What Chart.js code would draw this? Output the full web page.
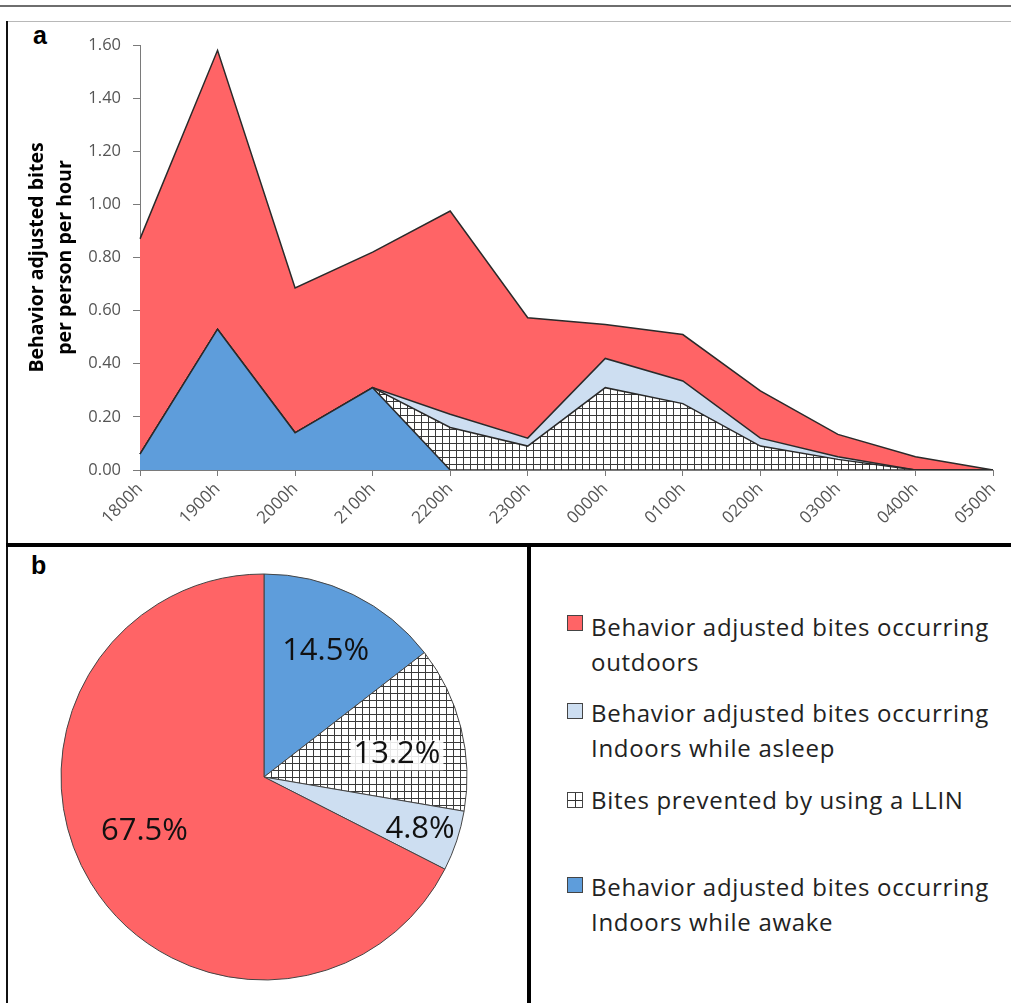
<!DOCTYPE html>
<html><head><meta charset="utf-8">
<script src="https://cdn.jsdelivr.net/npm/chart.js@4/dist/chart.umd.min.js"></script>
<style>
html,body{margin:0;padding:0;background:#fff;}
body{width:1011px;height:1003px;position:relative;overflow:hidden;font-family:"Open Sans",sans-serif;}
.abs{position:absolute;}
.lg-sq{position:absolute;width:14px;height:14px;border:1px solid #444;}
.lg-tx{position:absolute;left:591px;font-size:24px;letter-spacing:0.7px;line-height:35px;color:#222;white-space:nowrap;font-family:"Open Sans",sans-serif;}
</style></head><body>
<div class="abs" style="left:0;top:5px;width:1011px;height:2px;background:#6e6e6e"></div>
<div class="abs" style="left:6px;top:21px;width:1005px;height:1px;background:#b8b8b8"></div>
<div class="abs" style="left:6px;top:21px;width:2px;height:982px;background:#111"></div>
<div class="abs" style="left:6px;top:543px;width:1005px;height:4px;background:#000"></div>
<div class="abs" style="left:527px;top:545px;width:4px;height:458px;background:#000"></div>
<div class="abs" style="left:33px;top:21px;font:bold 25px 'Liberation Sans',Arial,sans-serif;color:#000">a</div>
<div class="abs" style="left:31px;top:551px;font:bold 25px 'Liberation Sans',Arial,sans-serif;color:#000">b</div>

<canvas id="area" class="abs" style="left:8px;top:23px" width="1003" height="520"></canvas>
<canvas id="pie" class="abs" style="left:54px;top:567px" width="420" height="420"></canvas>

<div class="lg-sq" style="left:567px;top:615px;background:#FF6466"></div>
<div class="lg-tx" id="lg0" style="top:609px"></div>
<div class="lg-sq" style="left:567px;top:703px;background:#CDDEF1"></div>
<div class="lg-tx" id="lg1" style="top:695px"></div>
<div class="lg-sq" style="left:567px;top:792px;background:linear-gradient(#333,#333) center/100% 1px no-repeat,linear-gradient(#333,#333) center/1px 100% no-repeat,#fff"></div>
<div class="lg-tx" id="lg2" style="top:782px"></div>
<div class="lg-sq" style="left:567px;top:877px;background:#5E9DDB"></div>
<div class="lg-tx" id="lg3" style="top:869px"></div>

<script>
// ---- data ----
const hours = ['1800h','1900h','2000h','2100h','2200h','2300h','0000h','0100h','0200h','0300h','0400h','0500h'];
const awakeIndoors  = [0.06, 0.53, 0.14, 0.31, 0,    0,     0,     0,     0,     0,     0,    0];
const preventedLLIN = [0,    0,    0,    0,    0.16, 0.09,  0.31,  0.25,  0.09,  0.04,  0,    0];
const asleepIndoors = [0,    0,    0,    0,    0.05, 0.03,  0.11,  0.085, 0.03,  0.01,  0,    0];
const outdoors      = [0.81, 1.05, 0.545,0.51, 0.765,0.453, 0.128, 0.175, 0.178, 0.084, 0.05, 0];
const yTickLabels = ['0.00','0.20','0.40','0.60','0.80','1.00','1.20','1.40','1.60'];
const yTitle = ['Behavior adjusted bites','per person per hour'];

const pieCategories = ['Behavior adjusted bites occurring Indoors while awake','Bites prevented by using a LLIN','Behavior adjusted bites occurring Indoors while asleep','Behavior adjusted bites occurring outdoors'];
const pieValues = [14.5, 13.2, 4.8, 67.5];

const legendLines = [
  ['Behavior adjusted bites occurring','outdoors'],
  ['Behavior adjusted bites occurring','Indoors while asleep'],
  ['Bites prevented by using a LLIN'],
  ['Behavior adjusted bites occurring','Indoors while awake']
];

// ---- styles ----
const RED = '#FF6466', BLUE = '#5E9DDB', LIGHT = '#CDDEF1', EDGE = '#2a2a2a';
function makeHatch(){
  const c = document.createElement('canvas'); c.width = 7; c.height = 7;
  const g = c.getContext('2d');
  g.fillStyle = '#fff'; g.fillRect(0,0,7,7);
  g.fillStyle = '#3a3a3a'; g.fillRect(0,0,7,1); g.fillRect(0,0,1,7);
  return g.createPattern(c,'repeat');
}
const hatch = makeHatch();

legendLines.forEach((ls,i)=>{ document.getElementById('lg'+i).innerHTML = ls.join('<br>'); });

const lineBase = {pointRadius:0, borderColor:EDGE, borderWidth:1.5, tension:0};
new Chart(document.getElementById('area'), {
  type:'line',
  data:{
    labels:hours,
    datasets:[
      Object.assign({label:'Behavior adjusted bites occurring Indoors while awake', data:awakeIndoors, backgroundColor:BLUE, fill:'origin'}, lineBase),
      Object.assign({label:'Bites prevented by using a LLIN', data:preventedLLIN, backgroundColor:hatch, fill:'-1'}, lineBase),
      Object.assign({label:'Behavior adjusted bites occurring Indoors while asleep', data:asleepIndoors, backgroundColor:LIGHT, fill:'-1'}, lineBase),
      Object.assign({label:'Behavior adjusted bites occurring outdoors', data:outdoors, backgroundColor:RED, fill:'-1'}, lineBase)
    ]
  },
  options:{
    responsive:false, animation:false,
    layout:{padding:{top:22, right:18, left:0, bottom:0}},
    plugins:{legend:{display:false}, tooltip:{enabled:false}},
    scales:{
      x:{
        border:{display:true, color:'#7a7a7a', width:1},
        grid:{display:true, drawOnChartArea:false, drawTicks:true, tickLength:6, color:'#7a7a7a'},
        ticks:{maxRotation:45, minRotation:45, padding:3, color:'#555', font:{size:17, family:'Open Sans'}},
        afterFit(s){ s.height = 73; }
      },
      y:{
        stacked:true, min:0, max:1.6,
        border:{display:true, color:'#7a7a7a', width:1},
        grid:{display:true, drawOnChartArea:false, drawTicks:true, tickLength:7, color:'#7a7a7a'},
        ticks:{stepSize:0.2, padding:12, color:'#555', font:{size:16.5, family:'Open Sans'},
               callback:(v,i)=>yTickLabels[i]},
        title:{display:true, text:yTitle, color:'#000',
               font:{size:19.5, weight:'bold', family:'Open Sans', lineHeight:1.42},
               padding:{top:16, bottom:0}},
        afterFit(s){ s.width = 132; }
      }
    }
  }
});

const labelRadius = [0.69, 0.665, 0.81, 0.65];
const labelNudge = [[0,0],[2,10],[0,0],[-7,-15]];
const pieLabelPlugin = {
  id:'pieLabels',
  afterDatasetsDraw(chart){
    const ctx = chart.ctx;
    const meta = chart.getDatasetMeta(0);
    ctx.save();
    ctx.font = '31px "Open Sans"';
    ctx.textAlign = 'center'; ctx.textBaseline = 'middle';
    meta.data.forEach((arc,i)=>{
      const p = arc.getProps(['x','y','startAngle','endAngle','outerRadius'], true);
      const mid = (p.startAngle + p.endAngle)/2;
      const r = p.outerRadius * labelRadius[i];
      const px = p.x + Math.cos(mid)*r + labelNudge[i][0];
      const py = p.y + Math.sin(mid)*r + labelNudge[i][1];
      const txt = pieValues[i].toFixed(1) + '%';
      if (i === 1) {
        const w = ctx.measureText(txt).width + 6;
        ctx.fillStyle = 'rgba(255,255,255,0.88)';
        ctx.fillRect(px - w/2, py - 14, w, 30);
      }
      ctx.fillStyle = '#111';
      ctx.fillText(txt, px, py);
    });
    ctx.restore();
  }
};

new Chart(document.getElementById('pie'), {
  type:'pie',
  data:{labels:pieCategories, datasets:[{data:pieValues, backgroundColor:[BLUE, hatch, LIGHT, RED], borderColor:'#444', borderWidth:1, hoverOffset:0}]},
  options:{
    responsive:false, animation:false, radius:203,
    plugins:{legend:{display:false}, tooltip:{enabled:false}}
  },
  plugins:[pieLabelPlugin]
});
</script>
</body></html>
